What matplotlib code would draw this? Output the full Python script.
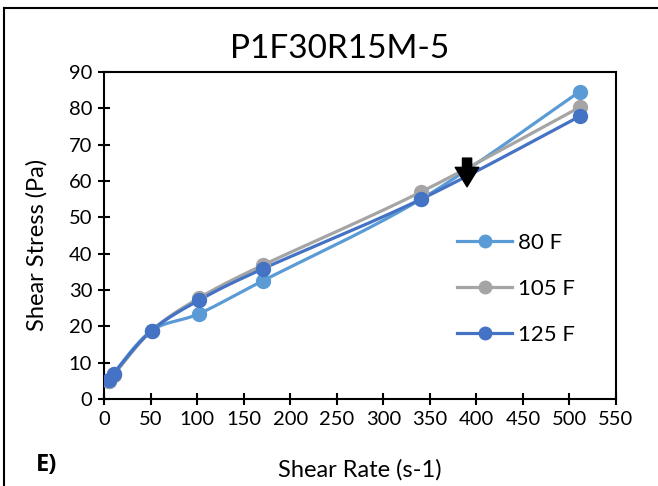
import numpy as np
import matplotlib
matplotlib.use("Agg")
import matplotlib.pyplot as plt
from matplotlib.lines import Line2D

plt.rcParams['font.family'] = ['Lato', 'DejaVu Sans']

# Shear rates (s-1) and measured shear stress (Pa) per temperature
shear_rate = [5.11, 10.22, 51.1, 102.2, 170.3, 340.6, 511.0]
stress_80F = [5.0, 7.0, 18.8, 23.5, 32.5, 55.0, 84.6]
stress_105F = [5.0, 6.5, 18.8, 27.8, 36.8, 57.0, 80.3]
stress_125F = [5.2, 7.0, 18.8, 27.2, 35.8, 55.0, 77.8]
series_labels = ['80 F', '105 F', '125 F']
series_colors = ['#5B9BD5', '#A5A5A5', '#4472C4']

title = 'P1F30R15M-5'
x_label = 'Shear Rate (s-1)'
y_label = 'Shear Stress (Pa)'
x_ticks = list(range(0, 551, 50))
y_ticks = list(range(0, 91, 10))
arrow_x, arrow_y_top, arrow_y_tip = 390, 66.3, 58.4

XMAX, YMAX = 550, 90


def smooth(xs, ys, n=30):
    """Catmull-Rom curve through the points, computed in axis-normalised space."""
    px = np.asarray(xs, float) / XMAX
    py = np.asarray(ys, float) / YMAX * 0.64  # aspect of the plot area
    pts = np.column_stack([px, py])
    pts = np.vstack([pts[0], pts, pts[-1]])
    out = []
    for i in range(1, len(pts) - 2):
        p0, p1, p2, p3 = pts[i - 1], pts[i], pts[i + 1], pts[i + 2]
        t = np.linspace(0, 1, n)[:, None]
        seg = 0.5 * ((2 * p1) + (-p0 + p2) * t + (2 * p0 - 5 * p1 + 4 * p2 - p3) * t ** 2
                     + (-p0 + 3 * p1 - 3 * p2 + p3) * t ** 3)
        out.append(seg)
    c = np.vstack(out)
    return c[:, 0] * XMAX, c[:, 1] / 0.64 * YMAX


fig = plt.figure(figsize=(6.58, 4.86), dpi=100)
ax = fig.add_axes([104 / 658, 1 - 399 / 486, (616 - 104) / 658, (399 - 72) / 486])

for ys, col in zip([stress_80F, stress_105F, stress_125F], series_colors):
    sx, sy = smooth(shear_rate, ys)
    ax.plot(sx, sy, color=col, lw=2.3, solid_capstyle='round', zorder=3)
    ax.plot(shear_rate, ys, 'o', color=col, ms=10, zorder=4)

ax.annotate('', xy=(arrow_x, arrow_y_tip), xytext=(arrow_x, arrow_y_top),
            arrowprops=dict(arrowstyle='simple,head_length=0.7,head_width=0.85,tail_width=0.33',
                            mutation_scale=20, fc='black', ec='black',
                            shrinkA=0, shrinkB=0), zorder=5)

ax.set_xlim(0, XMAX)
ax.set_ylim(0, YMAX)
ax.set_xticks(x_ticks)
ax.set_yticks(y_ticks)
ax.tick_params(direction='inout', length=9, width=1.5, labelsize=14.5, pad=4, colors='black')
for s in ax.spines.values():
    s.set_linewidth(1.5)
    s.set_color('black')

fig.text(340 / 658, 1 - 49 / 486, title, ha='center', va='center', fontsize=24)
fig.text(360 / 658, 1 - 470 / 486, x_label, ha='center', va='center', fontsize=17)
fig.text(37 / 658, 1 - 245 / 486, y_label, ha='center', va='center', rotation=90, fontsize=17)
fig.text(36 / 658, 1 - 465 / 486, 'E)', ha='left', va='center', fontsize=17,
         fontweight='bold', family=['Open Sans', 'DejaVu Sans'])

handles = [Line2D([0], [0], color=c, lw=2.3, marker='o', ms=9) for c in series_colors]
ax.legend(handles, series_labels, loc='upper left', bbox_to_anchor=(0.69, 0.507),
          frameon=False, fontsize=16, handlelength=2.45, labelspacing=1.16,
          handletextpad=0.27, borderpad=0, borderaxespad=0)

# page frame on the left and top edges
fig.add_artist(Line2D([4 / 658, 4 / 658], [0, 1 - 8 / 486], transform=fig.transFigure,
                      color='black', lw=1.5))
fig.add_artist(Line2D([4 / 658, 1], [1 - 8 / 486, 1 - 8 / 486], transform=fig.transFigure,
                      color='black', lw=1.5))

fig.savefig('out.png', dpi=100)
